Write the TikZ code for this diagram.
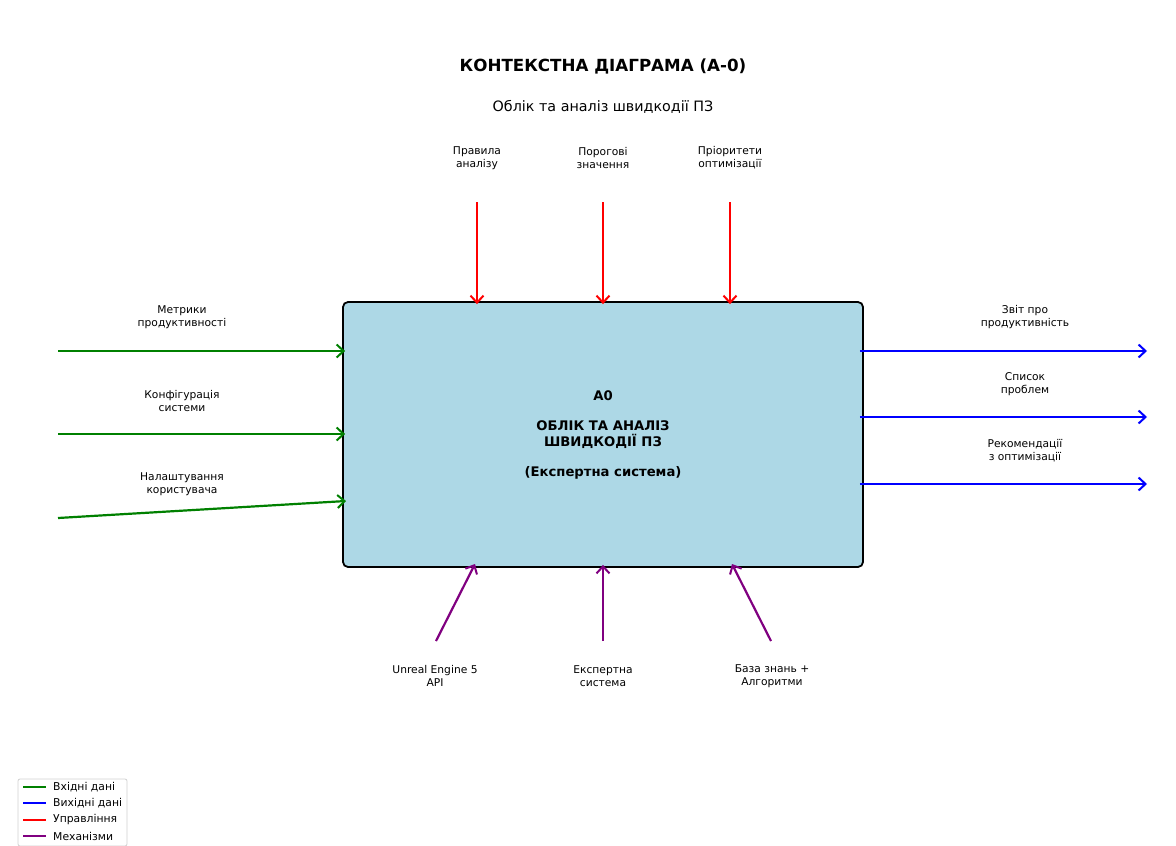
\documentclass[tikz,border=0pt]{standalone}
\usepackage{fontspec}
\setmainfont{DejaVu Sans}
\usetikzlibrary{arrows.meta}
\definecolor{boxfill}{HTML}{ADD8E6}
\definecolor{inflow}{HTML}{008000}
\definecolor{outflow}{HTML}{0000FF}
\definecolor{ctlflow}{HTML}{FF0000}
\definecolor{mechflow}{HTML}{800080}
\tikzset{
  flow/.style={line width=2.2pt, -{Straight Barb[length=7pt,width=13pt,line width=2pt]}},
  lbl/.style={align=center, inner sep=0pt, font=\fontsize{10.7}{13}\selectfont},
  legline/.style={line width=1.8pt},
  legtext/.style={anchor=west, inner sep=0pt, font=\fontsize{10.8}{12}\selectfont},
}
\begin{document}
\begin{tikzpicture}[x=1pt,y=-1pt]
\useasboundingbox (0,0) rectangle (1176,846);

% titles
\node[font=\bfseries\fontsize{16.7}{19}\selectfont] (title) at (603,66) {КОНТЕКСТНА ДІАГРАМА (А-0)};
\node[font=\fontsize{14.3}{17}\selectfont] (subtitle) at (603,107) {Облік та аналіз швидкодії ПЗ};

% main function block
\node[draw=black, line width=1.8pt, fill=boxfill, rounded corners=5pt,
      minimum width=520pt, minimum height=265pt, inner sep=0pt,
      align=center, font=\bfseries\fontsize{13.2}{16}\selectfont] (box) at (603,434.5)
  {А0\\[14pt]ОБЛІК ТА АНАЛІЗ\\ШВИДКОДІЇ ПЗ\\[14pt](Експертна система)};

% inputs
\coordinate (i1) at (58,351);
\coordinate (i2) at (58,434);
\coordinate (i3) at (58,518);
\coordinate (i3e) at (346,501);
\draw[flow, inflow] (i1) -- ([xshift=3pt]box.west |- i1);
\draw[flow, inflow] (i2) -- ([xshift=3pt]box.west |- i2);
\draw[flow, inflow] (i3) -- (i3e);
\node[lbl] (li1) at (182,317) {Метрики\\продуктивності};
\node[lbl] (li2) at (182,401) {Конфігурація\\системи};
\node[lbl] (li3) at (182,484) {Налаштування\\користувача};

% outputs
\coordinate (o1) at (1147,351);
\coordinate (o2) at (1147,417);
\coordinate (o3) at (1147,484);
\draw[flow, outflow] ([xshift=-4pt]box.east |- o1) -- (o1);
\draw[flow, outflow] ([xshift=-4pt]box.east |- o2) -- (o2);
\draw[flow, outflow] ([xshift=-4pt]box.east |- o3) -- (o3);
\node[lbl] (lo1) at (1025,317) {Звіт про\\продуктивність};
\node[lbl] (lo2) at (1025,384) {Список\\проблем};
\node[lbl] (lo3) at (1025,451) {Рекомендації\\з оптимізації};

% controls
\coordinate (c1) at (477,202);
\coordinate (c2) at (603,202);
\coordinate (c3) at (730,202);
\draw[flow, ctlflow] (c1) -- ([yshift=-3pt]box.north -| c1);
\draw[flow, ctlflow] (c2) -- ([yshift=-3pt]box.north -| c2);
\draw[flow, ctlflow] (c3) -- ([yshift=-3pt]box.north -| c3);
\node[lbl] (lc1) at (477,158) {Правила\\аналізу};
\node[lbl] (lc2) at (603,158) {Порогові\\значення};
\node[lbl] (lc3) at (730,158) {Пріоритети\\оптимізації};

% mechanisms
\coordinate (m1) at (436,641);
\coordinate (m2) at (603,641);
\coordinate (m3) at (771,641);
\coordinate (m1e) at (475,564);
\coordinate (m3e) at (732,564);
\draw[flow, mechflow] (m1) -- (m1e);
\draw[flow, mechflow] (m2) -- ([yshift=3pt]box.south -| m2);
\draw[flow, mechflow] (m3) -- (m3e);
\node[lbl] (lm1) at (435,676) {Unreal Engine 5\\API};
\node[lbl] (lm2) at (603,676) {Експертна\\система};
\node[lbl] (lm3) at (772,676) {База знань +\\Алгоритми};

% legend
\node[draw=black!18, line width=0.8pt, fill=white, rounded corners=2pt,
      minimum width=109pt, minimum height=67pt, inner sep=0pt] (legend) at (72.5,812.5) {};
\coordinate (ls1) at (23,787);  \coordinate (le1) at (46,787);
\coordinate (ls2) at (23,803);  \coordinate (le2) at (46,803);
\coordinate (ls3) at (23,820);  \coordinate (le3) at (46,820);
\coordinate (ls4) at (23,836);  \coordinate (le4) at (46,836);
\draw[legline, inflow]   (ls1) -- (le1);
\draw[legline, outflow]  (ls2) -- (le2);
\draw[legline, ctlflow]  (ls3) -- (le3);
\draw[legline, mechflow] (ls4) -- (le4);
\node[legtext] (lt1) at (53,787) {Вхідні дані};
\node[legtext] (lt2) at (53,803) {Вихідні дані};
\node[legtext] (lt3) at (53,820) {Управління};
\node[legtext] (lt4) at (53,836) {Механізми};
\end{tikzpicture}
\end{document}
